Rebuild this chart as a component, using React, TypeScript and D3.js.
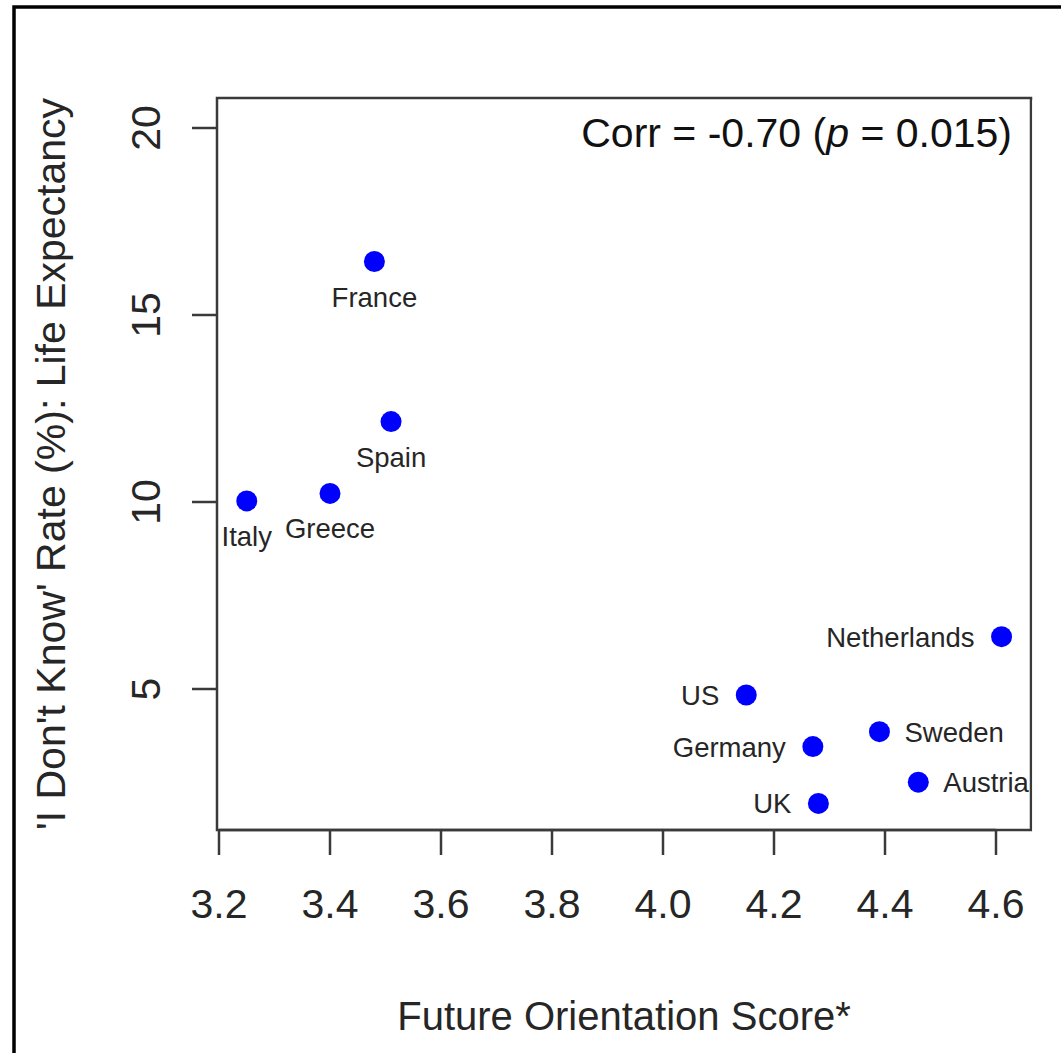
import React from "react";
import * as d3 from "d3";

const countries = ["France", "Spain", "Italy", "Greece", "Netherlands", "US", "Sweden", "Germany", "Austria", "UK"];
const futureOrientation = [3.48, 3.51, 3.25, 3.40, 4.61, 4.15, 4.39, 4.27, 4.46, 4.28];
const dontKnowRate = [16.43, 12.15, 10.03, 10.23, 6.40, 4.84, 3.86, 3.46, 2.51, 1.94];
// R-style label position: 1 = below, 2 = left, 4 = right
const labelSide = [1, 1, 1, 1, 2, 2, 4, 2, 4, 2];
const xTicks = [3.2, 3.4, 3.6, 3.8, 4.0, 4.2, 4.4, 4.6];
const yTicks = [5, 10, 15, 20];
const xTitle = "Future Orientation Score*";
const yTitle = "'I Don't Know' Rate (%): Life Expectancy";

const W = 1061;
const H = 1053;
const box = { left: 217, right: 1031, top: 98, bottom: 830 };
const FONT = "'Liberation Sans', Arial, Helvetica, sans-serif";

export default function App() {
  const x = d3.scaleLinear().domain([3.2, 4.6]).range([219, 996]);
  const y = d3.scaleLinear().domain([20, 5]).range([128, 689]);
  const ink = "#262626";
  const axisInk = "#3a3a3a";

  return (
    <svg
      width={W}
      height={H}
      viewBox={`0 0 ${W} ${H}`}
      style={{ position: "absolute", left: 0, top: 0, background: "#fff" }}
    >
      <rect x={0} y={0} width={W} height={H} fill="#fff" />
      {/* outer frame */}
      <rect x={14} y={7} width={W + 20} height={H + 20} fill="none" stroke="#000" strokeWidth={3.5} />

      {/* plot box */}
      <rect
        x={box.left}
        y={box.top}
        width={box.right - box.left}
        height={box.bottom - box.top}
        fill="none"
        stroke={axisInk}
        strokeWidth={2.5}
      />

      {/* x axis ticks */}
      <line x1={x(xTicks[0])} x2={x(xTicks[xTicks.length - 1])} y1={box.bottom} y2={box.bottom} stroke={axisInk} strokeWidth={2.5} />
      {xTicks.map((t) => (
        <g key={"xt" + t}>
          <line x1={x(t)} x2={x(t)} y1={box.bottom} y2={box.bottom + 25} stroke={axisInk} strokeWidth={2.5} />
          <text x={x(t)} y={918} textAnchor="middle" fontFamily={FONT} fontSize={41} fill={ink}>
            {d3.format(".1f")(t)}
          </text>
        </g>
      ))}

      {/* y axis ticks */}
      {yTicks.map((t) => (
        <g key={"yt" + t}>
          <line x1={box.left - 25} x2={box.left} y1={y(t)} y2={y(t)} stroke={axisInk} strokeWidth={2.5} />
          <text
            transform={`translate(160,${y(t)}) rotate(-90)`}
            textAnchor="middle"
            fontFamily={FONT}
            fontSize={41}
            fill={ink}
          >
            {String(t)}
          </text>
        </g>
      ))}

      {/* points */}
      {countries.map((c, i) => (
        <circle key={"p" + c} cx={x(futureOrientation[i])} cy={y(dontKnowRate[i])} r={10.5} fill="#0000ff" />
      ))}

      {/* point labels */}
      {countries.map((c, i) => {
        const px = x(futureOrientation[i]);
        const py = y(dontKnowRate[i]);
        const side = labelSide[i];
        let tx = px;
        let ty = py + 45;
        let anchor: "middle" | "end" | "start" = "middle";
        if (side === 2) {
          tx = px - 27;
          ty = py + 10;
          anchor = "end";
        } else if (side === 4) {
          tx = px + 25;
          ty = py + 10;
          anchor = "start";
        }
        return (
          <text key={"l" + c} x={tx} y={ty} textAnchor={anchor} fontFamily={FONT} fontSize={27.5} fill={ink}>
            {c}
          </text>
        );
      })}

      {/* clip label overflow outside plot box on right */}
      <rect x={box.right + 1.25} y={box.top + 2} width={W - box.right} height={box.bottom - box.top} fill="#fff" />

      {/* correlation annotation */}
      <text x={1012} y={147} textAnchor="end" fontFamily={FONT} fontSize={41} fill="#111">
        Corr = -0.70 (<tspan fontStyle="italic">p</tspan> = 0.015)
      </text>

      {/* axis titles */}
      <text x={(box.left + box.right) / 2} y={1030} textAnchor="middle" fontFamily={FONT} fontSize={40} fill={ink}>
        {xTitle}
      </text>
      <text
        transform={`translate(65,${(box.top + box.bottom) / 2}) rotate(-90)`}
        textAnchor="middle"
        fontFamily={FONT}
        fontSize={41}
        fill={ink}
      >
        {yTitle}
      </text>
    </svg>
  );
}
